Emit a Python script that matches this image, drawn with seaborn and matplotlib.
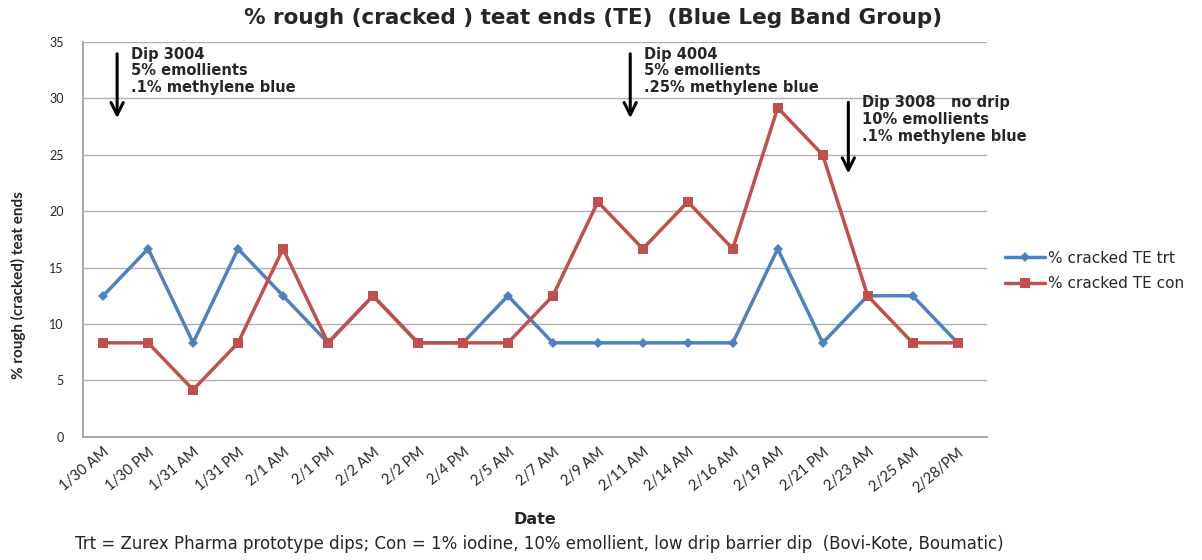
import pandas as pd
import matplotlib.pyplot as plt
import seaborn as sns

# Data
dates = ['1/30 AM', '1/30 PM', '1/31 AM', '1/31 PM', '2/1 AM', '2/1 PM', '2/2 AM',
         '2/2 PM', '2/4 PM', '2/5 AM', '2/7 AM', '2/9 AM', '2/11 AM', '2/14 AM',
         '2/16 AM', '2/19 AM', '2/21 PM', '2/23 AM', '2/25 AM', '2/28/PM']
trt = [12.5, 16.67, 8.33, 16.67, 12.5, 8.33, 12.5, 8.33, 8.33, 12.5,
       8.33, 8.33, 8.33, 8.33, 8.33, 16.67, 8.33, 12.5, 12.5, 8.33]
con = [8.33, 8.33, 4.17, 8.33, 16.67, 8.33, 12.5, 8.33, 8.33, 8.33,
       12.5, 20.83, 16.67, 20.83, 16.67, 29.17, 25.0, 12.5, 8.33, 8.33]
series_names = ['% cracked TE trt', '% cracked TE con']

df = pd.DataFrame({'Date': dates * 2,
                   'value': trt + con,
                   'series': [series_names[0]] * len(dates) + [series_names[1]] * len(dates)})

sns.set_style("white")
plt.rcParams['font.family'] = ['Lato', 'DejaVu Sans']

fig = plt.figure(figsize=(12.02, 5.6), dpi=100)
ax = fig.add_axes([0.069, 0.22, 0.752, 0.705])

sns.lineplot(data=df, x='Date', y='value', hue='series', style='series',
             markers={series_names[0]: 'D', series_names[1]: 's'}, dashes=False,
             palette={series_names[0]: '#4F81BD', series_names[1]: '#C0504D'},
             linewidth=2.5, markersize=7, markeredgewidth=0, sort=False, ax=ax)
# make diamonds a bit smaller
for line in ax.lines:
    if line.get_marker() == 'D':
        line.set_markersize(5)

ax.set_ylim(0, 35)
ax.set_yticks(range(0, 36, 5))
ax.set_xlim(-0.45, 19.65)
ax.grid(axis='y', color='#b0b0b0', linewidth=1)
ax.set_axisbelow(True)
for s in ['top', 'right']:
    ax.spines[s].set_visible(False)
for s in ['left', 'bottom']:
    ax.spines[s].set_color('#9a9a9a')
    ax.spines[s].set_linewidth(1.2)

ax.tick_params(axis='y', labelsize=9, length=0, pad=14)
ax.tick_params(axis='x', labelsize=10.5, length=0, pad=6)
plt.setp(ax.get_xticklabels(), rotation=40, ha='right', rotation_mode='anchor')

ax.set_xlabel('Date', fontsize=11.5, fontweight='bold', family='DejaVu Sans', labelpad=12)
ax.set_ylabel('% rough (cracked) teat ends', fontsize=11, fontweight='bold')
ax.yaxis.set_label_coords(-0.063, 0.385)
fig.suptitle('% rough (cracked ) teat ends (TE)  (Blue Leg Band Group)', x=0.493, y=0.985,
             fontsize=15.5, fontweight='bold', family='DejaVu Sans')

# Annotation arrows
arrow_kw = dict(arrowstyle='->', lw=2.2, color='black', mutation_scale=22)
ax.annotate('', xy=(0.31, 28.0), xytext=(0.31, 34.2), arrowprops=arrow_kw)
ax.annotate('', xy=(11.72, 28.0), xytext=(11.72, 34.2), arrowprops=arrow_kw)
ax.annotate('', xy=(16.57, 23.1), xytext=(16.57, 29.9), arrowprops=arrow_kw)

txt_kw = dict(fontsize=10.5, fontweight='bold', family='DejaVu Sans', va='top',
              linespacing=1.15)
ax.text(0.62, 34.6, 'Dip 3004\n5% emollients\n.1% methylene blue', **txt_kw)
ax.text(12.03, 34.6, 'Dip 4004\n5% emollients\n.25% methylene blue', **txt_kw)
ax.text(16.88, 30.3, 'Dip 3008   no drip\n10% emollients\n.1% methylene blue', **txt_kw)

leg = ax.legend(loc='center left', bbox_to_anchor=(1.005, 0.42), frameon=False,
                prop={'family': 'DejaVu Sans', 'size': 11}, handlelength=2.6,
                handletextpad=0.2, labelspacing=0.7)

fig.text(0.449, 0.02, 'Trt = Zurex Pharma prototype dips; Con = 1% iodine, 10% emollient, '
         'low drip barrier dip  (Bovi-Kote, Boumatic)', ha='center', fontsize=12,
         family='DejaVu Sans')

plt.savefig('out.png', dpi=100)
